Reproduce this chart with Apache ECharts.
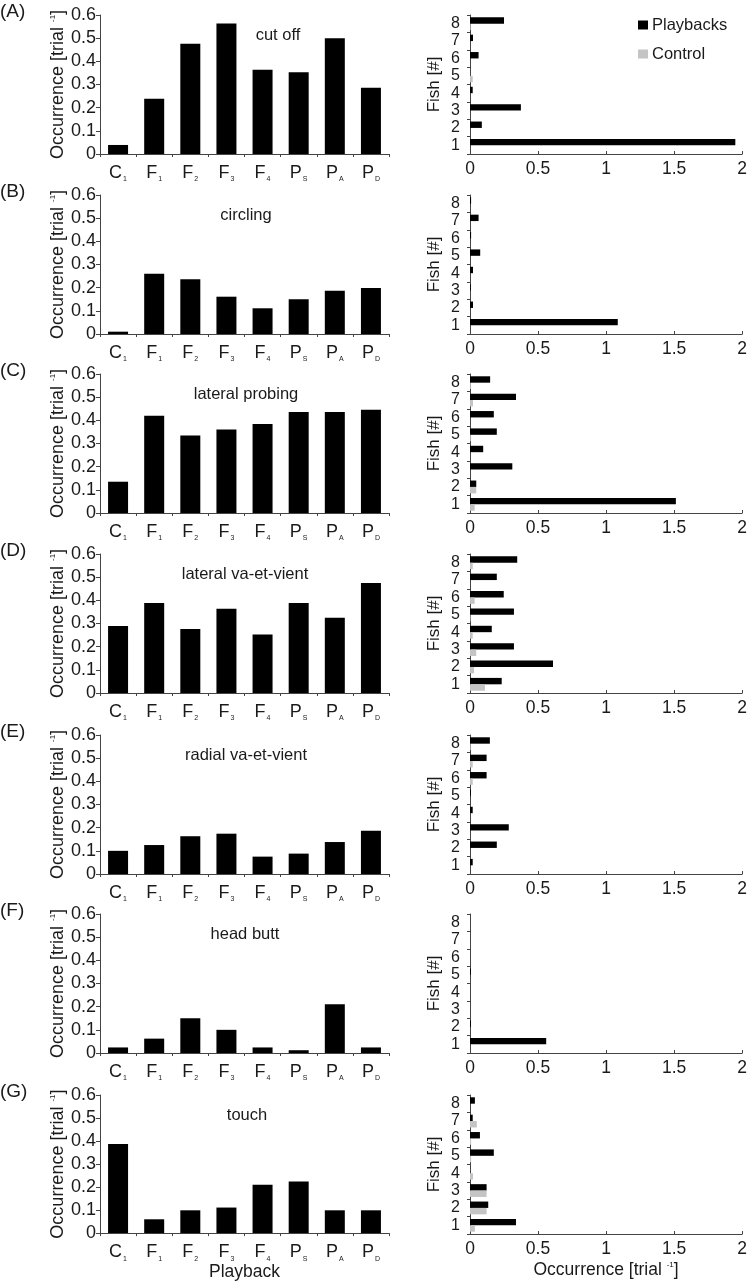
<!DOCTYPE html>
<html><head><meta charset="utf-8">
<script src="https://cdn.jsdelivr.net/npm/echarts@6/dist/echarts.min.js"></script>
<style>html,body{margin:0;padding:0;background:#fff}#c{width:750px;height:1282px}</style>
</head><body><div id="c"></div>
<script>
const categories = ['C1','F1','F2','F3','F4','PS','PA','PD'];
const fishIds = ['1','2','3','4','5','6','7','8'];
const panelLetters = ['(A)','(B)','(C)','(D)','(E)','(F)','(G)'];
const behaviours = ['cut off','circling','lateral probing','lateral va-et-vient','radial va-et-vient','head butt','touch'];

// left panels: occurrence per playback type
const cutOff           = [0.039,0.239,0.476,0.563,0.364,0.353,0.500,0.286];
const circling         = [0.010,0.260,0.236,0.161,0.111,0.150,0.187,0.199];
const lateralProbing   = [0.135,0.420,0.335,0.360,0.384,0.436,0.436,0.446];
const lateralVaEtVient = [0.289,0.388,0.276,0.364,0.252,0.388,0.325,0.475];
const radialVaEtVient  = [0.100,0.125,0.163,0.174,0.075,0.088,0.138,0.187];
const headButt         = [0.024,0.062,0.150,0.100,0.024,0.012,0.210,0.024];
const touch            = [0.387,0.060,0.099,0.111,0.210,0.224,0.099,0.099];

// right panels: occurrence per fish (1..8)
const cutOffPlay   = [1.950,0.087,0.374,0.020,0.000,0.063,0.022,0.250];
const cutOffCtrl   = [0,0,0,0,0.020,0,0,0.005];
const circlingPlay = [1.086,0.022,0.006,0.022,0.075,0.008,0.063,0.008];
const circlingCtrl = [0,0,0,0,0,0,0,0];
const latProbPlay  = [1.513,0.046,0.311,0.097,0.197,0.175,0.338,0.148];
const latProbCtrl  = [0.034,0.046,0,0,0.006,0,0.022,0.006];
const latVaPlay    = [0.233,0.610,0.323,0.160,0.323,0.248,0.197,0.347];
const latVaCtrl    = [0.110,0.030,0.046,0.020,0.004,0.034,0,0.020];
const radVaPlay    = [0.020,0.197,0.285,0.020,0.007,0.122,0.122,0.146];
const radVaCtrl    = [0,0,0,0,0,0.020,0.020,0.005];
const headButtPlay = [0.560,0.007,0,0,0.007,0,0,0];
const headButtCtrl = [0,0,0,0,0,0,0,0];
const touchPlay    = [0.338,0.134,0.122,0,0.175,0.073,0.020,0.036];
const touchCtrl    = [0.036,0.122,0.122,0.022,0.008,0.008,0.050,0];

const leftData = [cutOff,circling,lateralProbing,lateralVaEtVient,radialVaEtVient,headButt,touch];
const rightPlay = [cutOffPlay,circlingPlay,latProbPlay,latVaPlay,radVaPlay,headButtPlay,touchPlay];
const rightCtrl = [cutOffCtrl,circlingCtrl,latProbCtrl,latVaCtrl,radVaCtrl,headButtCtrl,touchCtrl];

const tops = [15,195,374,554,735,914,1095];
const titleX = [278,246,246,245,246,245,247];
const H = 139;
const FONT = '"Liberation Sans", Arial, sans-serif';
const TXT = '#1a1a1a';
const AX = '#444';
const BLACK = '#000000', GRAY = '#c4c4c4';

const grid=[], xAxis=[], yAxis=[], series=[], title=[];
const axisLineStyle = {lineStyle:{color:AX,width:1}};
for (let i=0;i<7;i++){
  const last = i===6;
  grid.push({left:100, width:289, top:tops[i], height:H});
  grid.push({left:470, width:274, top:tops[i], height:H});
  const gl = 2*i, gr = 2*i+1;
  xAxis.push({
    gridIndex:gl, type:'category', data:categories,
    axisLine:axisLineStyle, axisTick:{show:true,length:3,lineStyle:{color:AX}},
    axisLabel:{interval:0, margin:10, color:TXT, fontFamily:FONT, fontSize:18,
      formatter:v=>v[0]+'{s|'+v.slice(1)+'}',
      rich:{s:{fontSize:7, fontFamily:FONT, color:TXT, verticalAlign:'bottom', padding:[0,0,-1,1]}}},
    name: last?'Playback':'', nameLocation:'middle', nameGap:26,
    nameTextStyle:{color:TXT, fontFamily:FONT, fontSize:17.5}
  });
  yAxis.push({
    gridIndex:gl, type:'value', min:0, max:0.6, interval:0.1,
    splitLine:{show:false},
    axisLine:{show:true,lineStyle:{color:AX}}, axisTick:{show:true,length:4,lineStyle:{color:AX}},
    axisLabel:{margin:4,color:TXT,fontFamily:FONT,fontSize:18},
    name:'Occurrence [trial {sup|-1}]', nameLocation:'middle', nameGap:33, nameRotate:90,
    nameTextStyle:{color:TXT,fontFamily:FONT,fontSize:18,
      rich:{sup:{fontSize:8,fontFamily:FONT,color:TXT,verticalAlign:'top',padding:[0,0,8,0]}}}
  });
  xAxis.push({
    gridIndex:gr, type:'value', min:0, max:2, interval:0.5,
    splitLine:{show:false},
    axisLine:{show:true,lineStyle:{color:AX}}, axisTick:{show:true,inside:true,length:3,lineStyle:{color:AX}},
    axisLabel:{margin:6,color:TXT,fontFamily:FONT,fontSize:17.5},
    name: last?'Occurrence [trial {sup|-1}]':'', nameLocation:'middle', nameGap:27,
    nameTextStyle:{color:TXT,fontFamily:FONT,fontSize:17.5,
      rich:{sup:{fontSize:8,fontFamily:FONT,color:TXT,verticalAlign:'top',padding:[0,0,8,0]}}}
  });
  yAxis.push({
    gridIndex:gr, type:'category', data:fishIds,
    axisLine:axisLineStyle, axisTick:{show:true,length:3,lineStyle:{color:AX}},
    axisLabel:{interval:0, margin:10,color:TXT,fontFamily:FONT,fontSize:16,lineHeight:16},
    name:'Fish [#]', nameLocation:'middle', nameGap:27, nameRotate:90,
    nameTextStyle:{color:TXT,fontFamily:FONT,fontSize:17}
  });
  series.push({type:'bar', name:behaviours[i], xAxisIndex:gl, yAxisIndex:gl, data:leftData[i],
    barWidth:20, itemStyle:{color:BLACK}, silent:true});
  series.push({type:'bar', name:'Playbacks', xAxisIndex:gr, yAxisIndex:gr, data:rightPlay[i],
    barWidth:6.4, barGap:'0%', itemStyle:{color:BLACK}, silent:true});
  series.push({type:'bar', name:'Control', xAxisIndex:gr, yAxisIndex:gr, data:rightCtrl[i],
    barWidth:6.4, barGap:'0%', itemStyle:{color:GRAY}, silent:true});
  title.push({text:behaviours[i], left:titleX[i], top:tops[i]+12, textAlign:'center', padding:0,
    textStyle:{color:TXT,fontFamily:FONT,fontSize:16.5,fontWeight:'normal'}});
  title.push({text:panelLetters[i], left:0, top:tops[i]-13, padding:0,
    textStyle:{color:TXT,fontFamily:FONT,fontSize:19,fontWeight:'normal'}});
}

const chart = echarts.init(document.getElementById('c'), null, {renderer:'canvas'});
chart.setOption({
  animation:false,
  backgroundColor:'#fff',
  title, grid, xAxis, yAxis, series,
  legend:{data:['Playbacks','Control'], orient:'vertical', left:633, top:11, icon:'rect',
    itemWidth:10, itemHeight:9, itemGap:11, selectedMode:false,
    textStyle:{color:TXT,fontFamily:FONT,fontSize:16.5,lineHeight:18,padding:[0,0,0,-1]}}
});
</script></body></html>
